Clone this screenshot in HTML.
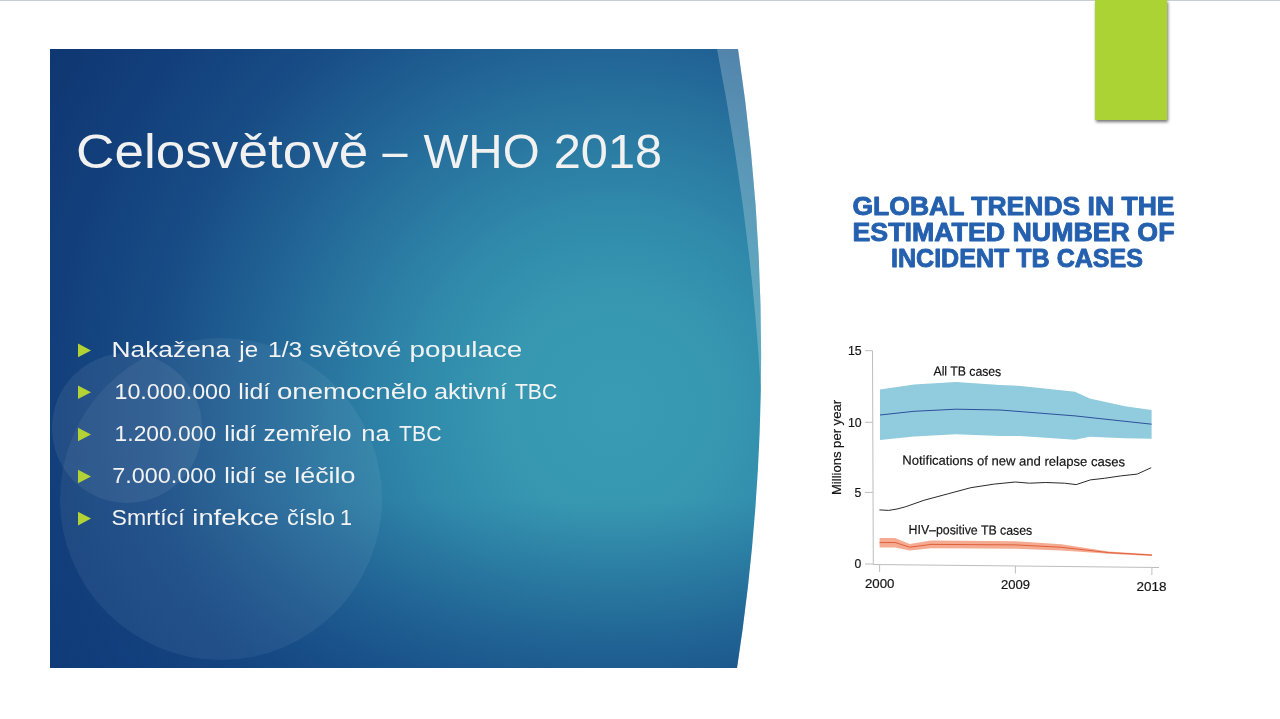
<!DOCTYPE html>
<html lang="cs">
<head>
<meta charset="utf-8">
<title>Celosvětově – WHO 2018</title>
<style>
html,body{margin:0;padding:0;background:#fff;}
body{width:1280px;height:719px;position:relative;overflow:hidden;font-family:"Liberation Sans",sans-serif;}
#topline{position:absolute;left:0;top:0;width:1280px;height:1px;background:#c9ced4;}
#bg{position:absolute;left:0;top:0;width:1280px;height:719px;}
#tab{position:absolute;left:1095px;top:0;width:72px;height:120px;background:#abd334;box-shadow:1px 2px 3px rgba(0,0,0,.55);}
#chart{position:absolute;left:0;top:0;width:1280px;height:719px;}
</style>
</head>
<body>
<svg id="bg" viewBox="0 0 1280 719">
  <defs>
    <radialGradient id="g1" gradientUnits="userSpaceOnUse" cx="615" cy="408" r="700">
      <stop offset="0" stop-color="#3a9cb4"/>
      <stop offset="0.16" stop-color="#3797b1"/>
      <stop offset="0.28" stop-color="#308aab"/>
      <stop offset="0.39" stop-color="#2a79a2"/>
      <stop offset="0.52" stop-color="#216395"/>
      <stop offset="0.66" stop-color="#184c85"/>
      <stop offset="0.81" stop-color="#123f7b"/>
      <stop offset="0.96" stop-color="#0f3671"/>
    </radialGradient>
    <linearGradient id="g2" gradientUnits="userSpaceOnUse" x1="0" y1="500" x2="0" y2="668">
      <stop offset="0" stop-color="#103c7c" stop-opacity="0"/>
      <stop offset="1" stop-color="#103c7c" stop-opacity="0.5"/>
    </linearGradient>
    <clipPath id="panel">
      <path d="M50 49 L738 49 A2050 2050 0 0 1 737 668 L50 668 Z"/>
    </clipPath>
  </defs>
  <g clip-path="url(#panel)">
    <rect x="50" y="49" width="720" height="619" fill="url(#g1)"/>
    <rect x="50" y="49" width="720" height="619" fill="url(#g2)"/>
    <circle cx="221" cy="499" r="161" fill="#fff" fill-opacity="0.06"/>
    <circle cx="127" cy="428" r="75" fill="#fff" fill-opacity="0.07"/>
    <path d="M717 49 L800 49 L800 385 L760.5 385 Q751 225 717 49 Z" fill="#fff" fill-opacity="0.23"/>
  </g>
  <g id="slideText" font-family="'Liberation Sans',sans-serif" fill="#f1f1f1">
    <g id="title"><text y="168.1" font-size="48.8"><tspan x="76.08" textLength="292.26" lengthAdjust="spacingAndGlyphs">Celosvětově</tspan> <tspan x="382.50" textLength="24.98" lengthAdjust="spacingAndGlyphs">–</tspan> <tspan x="423.50" textLength="116.16" lengthAdjust="spacingAndGlyphs">WHO</tspan> <tspan x="553.74" textLength="108.41" lengthAdjust="spacingAndGlyphs">2018</tspan></text></g>
    <g id="bullets" fill="#b2d235">
    <path d="M78 343.6 L91 350.4 L78 357.2 Z"/>
    <path d="M78 385.5 L91 392.3 L78 399.1 Z"/>
    <path d="M78 427.7 L91 434.5 L78 441.3 Z"/>
    <path d="M78 469.7 L91 476.5 L78 483.3 Z"/>
    <path d="M78 511.8 L91 518.6 L78 525.4 Z"/>
    </g>
    <g id="items" fill="#f3f3f3">
      <text y="356.6" font-size="22"><tspan x="111.53" textLength="118.57" lengthAdjust="spacingAndGlyphs">Nakažena</tspan> <tspan x="239.31" textLength="18.75" lengthAdjust="spacingAndGlyphs">je</tspan> <tspan x="268.10" textLength="34.21" lengthAdjust="spacingAndGlyphs">1/3</tspan> <tspan x="309.24" textLength="92.07" lengthAdjust="spacingAndGlyphs">světové</tspan> <tspan x="409.48" textLength="112.83" lengthAdjust="spacingAndGlyphs">populace</tspan></text>
      <text y="398.5" font-size="22"><tspan x="114.44" textLength="116.58" lengthAdjust="spacingAndGlyphs">10.000.000</tspan> <tspan x="238.36" textLength="31.77" lengthAdjust="spacingAndGlyphs">lidí</tspan> <tspan x="276.98" textLength="150.57" lengthAdjust="spacingAndGlyphs">onemocnělo</tspan> <tspan x="433.99" textLength="73.15" lengthAdjust="spacingAndGlyphs">aktivní</tspan> <tspan x="514.98" textLength="42.20" lengthAdjust="spacingAndGlyphs">TBC</tspan></text>
      <text y="440.7" font-size="22"><tspan x="114.61" textLength="101.55" lengthAdjust="spacingAndGlyphs">1.200.000</tspan> <tspan x="224.36" textLength="31.77" lengthAdjust="spacingAndGlyphs">lidí</tspan> <tspan x="263.48" textLength="87.95" lengthAdjust="spacingAndGlyphs">zemřelo</tspan> <tspan x="361.31" textLength="28.46" lengthAdjust="spacingAndGlyphs">na</tspan> <tspan x="398.98" textLength="42.59" lengthAdjust="spacingAndGlyphs">TBC</tspan></text>
      <text y="482.7" font-size="22"><tspan x="112.19" textLength="103.97" lengthAdjust="spacingAndGlyphs">7.000.000</tspan> <tspan x="224.36" textLength="31.77" lengthAdjust="spacingAndGlyphs">lidí</tspan> <tspan x="263.97" textLength="22.60" lengthAdjust="spacingAndGlyphs">se</tspan> <tspan x="294.26" textLength="61.29" lengthAdjust="spacingAndGlyphs">léčilo</tspan></text>
      <text y="524.8" font-size="22"><tspan x="111.55" textLength="73.01" lengthAdjust="spacingAndGlyphs">Smrtící</tspan> <tspan x="192.35" textLength="86.57" lengthAdjust="spacingAndGlyphs">infekce</tspan> <tspan x="286.92" textLength="48.26" lengthAdjust="spacingAndGlyphs">číslo</tspan> <tspan x="340.08" textLength="12.08" lengthAdjust="spacingAndGlyphs">1</tspan></text>
    </g>
  </g>
</svg>
<div id="topline"></div>
<div id="tab"></div>
<svg id="chart" viewBox="0 0 1280 719" font-family="'Liberation Sans',sans-serif">
  <g fill="#2460ae" stroke="#2460ae" stroke-width="0.9" stroke-linejoin="round" font-weight="bold" font-size="25.6">
    <text x="852.5" y="215.3" textLength="322" lengthAdjust="spacingAndGlyphs">GLOBAL TRENDS IN THE</text>
    <text x="852.5" y="241.3" textLength="322" lengthAdjust="spacingAndGlyphs">ESTIMATED NUMBER OF</text>
    <text x="891" y="267.3" textLength="252" lengthAdjust="spacingAndGlyphs">INCIDENT TB CASES</text>
  </g>
  <g id="plot">
    <path d="M880 389.4 L914 384.6 L956 382.1 L1000 385 L1021 386 L1075 391.7 L1089.7 398.6 L1125 406.3 L1151.6 410 L1151.6 438.8 L1125 438.2 L1089.7 436.7 L1075 439.7 L1020 436 L1000 436 L956 434.3 L914 436.4 L880 440 Z" fill="#90cbde"/>
    <path d="M880 415 L914 411.3 L956 409.2 L1000 410 L1075 415.9 L1151.6 424.2" fill="none" stroke="#2f4f9c" stroke-width="1"/>
    <path d="M879.4 509.9 L888.7 510.4 L897 509 L905.2 506.9 L923.9 500.3 L947.3 494 L970.8 487.7 L994.2 484.1 L1015.3 482 L1029.4 483.2 L1045.8 482.5 L1064.5 483.2 L1076.2 484.6 L1090.3 479.9 L1104.4 478.3 L1120.8 475.9 L1137.2 474.1 L1151.2 467.7" fill="none" stroke="#2a2a2a" stroke-width="1" stroke-linejoin="round"/>
    <path d="M879.6 538.1 L895 538 L909.8 544 L931 540.5 L1016 541.2 L1061.5 544.2 L1108.5 551.4 L1151.9 554.3 L1151.9 555.9 L1108.5 553.8 L1061.5 550.5 L1016 548.7 L931 548.3 L909.8 550.6 L895 547.5 L879.6 547.6 Z" fill="#f5ab92"/>
    <path d="M879.6 542.6 L895 542.5 L909.8 547.2 L931 544.4 L1016 544.9 L1061.5 547.3 L1108.5 552.6 L1151.9 555.1" fill="none" stroke="#e0603a" stroke-width="1"/>
    <g stroke="#bdbdbd" stroke-width="1" fill="none">
      <path d="M872.5 350.7 L873.3 564.5 L1159 567.5"/>
      <path d="M865 350.7 H872.5 M865 422.3 H872.7 M865 492.4 H873 M865 564 H873.3"/>
      <path d="M879.6 564.6 V572 M1015.4 566 V573.5 M1151.9 567.4 V575"/>
    </g>
    <g fill="#151515" stroke="#151515" stroke-width="0.2" font-size="13">
      <text x="933.5" y="375.4" transform="rotate(0.5 933.5 375.4)" textLength="67.7" lengthAdjust="spacingAndGlyphs">All TB cases</text>
      <text x="902.3" y="464.6" transform="rotate(0.42 902.3 464.6)" textLength="222.7" lengthAdjust="spacingAndGlyphs">Notifications of new and relapse cases</text>
      <text x="908.6" y="533.9" transform="rotate(0.45 908.6 533.9)" textLength="123.6" lengthAdjust="spacingAndGlyphs">HIV–positive TB cases</text>
      <text x="848" y="355.2" textLength="13.7" lengthAdjust="spacingAndGlyphs">15</text>
      <text x="848" y="426.8" textLength="13.7" lengthAdjust="spacingAndGlyphs">10</text>
      <text x="854.5" y="496.8" textLength="6.8" lengthAdjust="spacingAndGlyphs">5</text>
      <text x="854.5" y="568.4" textLength="6.8" lengthAdjust="spacingAndGlyphs">0</text>
      <text x="865" y="587.8" textLength="29.5" lengthAdjust="spacingAndGlyphs">2000</text>
      <text x="1001" y="589.4" textLength="29" lengthAdjust="spacingAndGlyphs">2009</text>
      <text x="1136.5" y="590.7" textLength="30" lengthAdjust="spacingAndGlyphs">2018</text>
      <text transform="translate(840.8 495) rotate(-90)" textLength="95" lengthAdjust="spacingAndGlyphs">Millions per year</text>
    </g>
  </g>
</svg>
</body>
</html>
